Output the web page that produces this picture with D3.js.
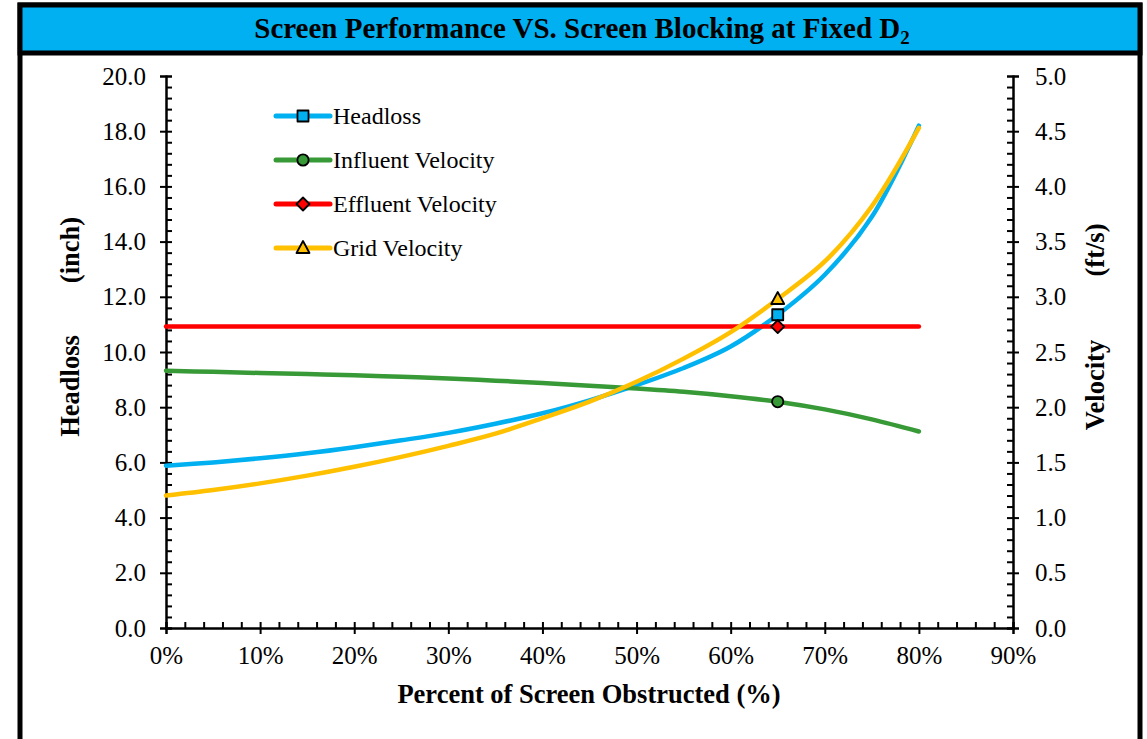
<!DOCTYPE html>
<html lang="en">
<head>
  <meta charset="UTF-8">
  <title>Screen Performance VS. Screen Blocking</title>
  <script src="https://d3js.org/d3.v7.min.js"></script>
  <style>
    body { margin: 0; background: #fff; }
    text { font-family: "Liberation Serif", "Times New Roman", serif; fill: #000; }
  </style>
</head>
<body>
<svg id="chart" width="1147" height="739"></svg>

<script>
  // data
  var pctObstructed = [0, 5, 10, 15, 20, 25, 30, 35, 40, 45, 50, 55, 60, 65, 70, 75, 80];
  var headloss      = [5.88, 6.0, 6.15, 6.33, 6.55, 6.8, 7.07, 7.4, 7.78, 8.25, 8.8, 9.42, 10.2, 11.35, 12.8, 14.9, 18.2]; // inch
  var influentVel   = [2.33, 2.32, 2.31, 2.30, 2.29, 2.275, 2.26, 2.24, 2.22, 2.195, 2.17, 2.14, 2.10, 2.05, 1.98, 1.89, 1.78]; // ft/s
  var effluentVel   = [2.73, 2.73, 2.73, 2.73, 2.73, 2.73, 2.73, 2.73, 2.73, 2.73, 2.73, 2.73, 2.73, 2.73, 2.73, 2.73, 2.73];
  var gridVel       = [1.20, 1.25, 1.31, 1.38, 1.46, 1.55, 1.65, 1.76, 1.90, 2.05, 2.23, 2.44, 2.68, 2.98, 3.32, 3.82, 4.53];
  var markerPct = 65;   // only point shown with a marker

  var xTicks = [0, 10, 20, 30, 40, 50, 60, 70, 80, 90];
  var leftTicks = [0, 2, 4, 6, 8, 10, 12, 14, 16, 18, 20];
  var rightTicks = [0, 0.5, 1, 1.5, 2, 2.5, 3, 3.5, 4, 4.5, 5];

  var seriesNames = ["Headloss", "Influent Velocity", "Effluent Velocity", "Grid Velocity"];
  var colors = ["#00B0F0", "#379A37", "#FF0000", "#FFC000"];

  // marker shapes, roughly 11px across like excel's
  function markerPath(i) {
    if (i === 0) return "M-5.5,-5.5H5.5V5.5H-5.5Z";
    if (i === 1) return d3.symbol().type(d3.symbolCircle).size(100)();
    if (i === 2) return "M0,-6.5L6.5,0L0,6.5L-6.5,0Z";
    return "M0,-7L6.5,5L-6.5,5Z";
  }

  var svg = d3.select("#chart");

  // frame + title bar
  svg.append("rect").attr("x", 20).attr("y", 5).attr("width", 1120).attr("height", 780)
    .attr("fill", "#fff").attr("stroke", "#000").attr("stroke-width", 5);
  svg.append("rect").attr("x", 20).attr("y", 5).attr("width", 1120).attr("height", 48)
    .attr("fill", "#00B0F0").attr("stroke", "#000").attr("stroke-width", 5);

  var title = svg.append("text").attr("x", 582).attr("y", 38)
    .attr("text-anchor", "middle").attr("font-size", "29px").attr("font-weight", "bold")
    .text("Screen Performance VS. Screen Blocking at Fixed D");
  title.append("tspan").attr("font-size", "19px").attr("dy", 6).text("2");

  // scales
  var margin = { left: 166, right: 1013, top: 76, bottom: 628 };
  var x = d3.scaleLinear().domain([0, 90]).range([margin.left, margin.right]);
  var yL = d3.scaleLinear().domain([0, 20]).range([margin.bottom, margin.top]);
  var yR = d3.scaleLinear().domain([0, 5]).range([margin.bottom, margin.top]);

  var xMinor = d3.range(0, 90.01, 2);
  var lMinor = d3.range(0, 20.01, 0.4);
  var rMinor = d3.range(0, 5.001, 0.1);

  function styleAxis(g) {
    g.select(".domain").attr("stroke", "#000").attr("stroke-width", 2);
    g.selectAll(".tick line").attr("stroke", "#000").attr("stroke-width", 2);
    g.selectAll("text").attr("font-size", "25px").attr("font-family", "Liberation Serif, Times New Roman, serif");
  }

  // left axis: outward majors with labels, inward minors
  svg.append("g").attr("transform", "translate(" + margin.left + ",0)")
    .call(d3.axisLeft(yL).tickValues(leftTicks).tickSize(6).tickPadding(14).tickFormat(d3.format(".1f")))
    .call(styleAxis);
  svg.append("g").attr("transform", "translate(" + margin.left + ",0)")
    .call(d3.axisRight(yL).tickValues(lMinor).tickSize(6).tickFormat(""))
    .call(styleAxis);

  // right axis
  svg.append("g").attr("transform", "translate(" + margin.right + ",0)")
    .call(d3.axisRight(yR).tickValues(rightTicks).tickSize(6).tickPadding(16).tickFormat(d3.format(".1f")))
    .call(styleAxis);
  svg.append("g").attr("transform", "translate(" + margin.right + ",0)")
    .call(d3.axisLeft(yR).tickValues(rMinor).tickSize(6).tickFormat(""))
    .call(styleAxis);

  // bottom axis
  svg.append("g").attr("transform", "translate(0," + margin.bottom + ")")
    .call(d3.axisBottom(x).tickValues(xTicks).tickSize(6).tickPadding(12).tickFormat(function (d) { return d + "%"; }))
    .call(styleAxis);
  svg.append("g").attr("transform", "translate(0," + margin.bottom + ")")
    .call(d3.axisTop(x).tickValues(xMinor).tickSize(6).tickFormat(""))
    .call(styleAxis);

  // axis titles
  svg.append("text").attr("x", 589).attr("y", 703).attr("text-anchor", "middle")
    .attr("font-size", "26.5px").attr("font-weight", "bold").text("Percent of Screen Obstructed (%)");
  svg.append("text").attr("transform", "translate(79,386) rotate(-90)").attr("text-anchor", "middle")
    .attr("font-size", "26.5px").attr("font-weight", "bold").text("Headloss");
  svg.append("text").attr("transform", "translate(79,250) rotate(-90)").attr("text-anchor", "middle")
    .attr("font-size", "26.5px").attr("font-weight", "bold").text("(inch)");
  svg.append("text").attr("transform", "translate(1104,385) rotate(-90)").attr("text-anchor", "middle")
    .attr("font-size", "26.5px").attr("font-weight", "bold").text("Velocity");
  svg.append("text").attr("transform", "translate(1104,250) rotate(-90)").attr("text-anchor", "middle")
    .attr("font-size", "26.5px").attr("font-weight", "bold").text("(ft/s)");

  // series
  var series = [
    { values: headloss, y: yL },
    { values: influentVel, y: yR },
    { values: effluentVel, y: yR },
    { values: gridVel, y: yR }
  ];

  series.forEach(function (s, i) {
    var line = d3.line()
      .x(function (d, j) { return x(pctObstructed[j]); })
      .y(function (d) { return s.y(d); })
      .curve(d3.curveCatmullRom.alpha(0.5));
    svg.append("path").datum(s.values)
      .attr("d", line)
      .attr("fill", "none")
      .attr("stroke", colors[i])
      .attr("stroke-width", 4.5)
      .attr("stroke-linecap", "round");
  });

  // markers at 65%
  var mi = pctObstructed.indexOf(markerPct);
  series.forEach(function (s, i) {
    svg.append("path")
      .attr("d", markerPath(i))
      .attr("transform", "translate(" + x(markerPct) + "," + s.y(s.values[mi]) + ")")
      .attr("fill", colors[i])
      .attr("stroke", "#000")
      .attr("stroke-width", 1.8)
      .attr("stroke-linejoin", "round");
  });

  // legend
  var legend = svg.append("g").attr("transform", "translate(276,116)");
  seriesNames.forEach(function (name, i) {
    var g = legend.append("g").attr("transform", "translate(0," + (i * 44) + ")");
    g.append("line").attr("x1", 0).attr("x2", 54).attr("y1", 0).attr("y2", 0)
      .attr("stroke", colors[i]).attr("stroke-width", 5).attr("stroke-linecap", "round");
    g.append("path").attr("d", markerPath(i))
      .attr("transform", "translate(27,0)")
      .attr("fill", colors[i]).attr("stroke", "#000").attr("stroke-width", 1.8)
      .attr("stroke-linejoin", "round");
    g.append("text").attr("x", 57).attr("y", 8).attr("font-size", "24px").text(name);
  });
</script>
</body>
</html>
